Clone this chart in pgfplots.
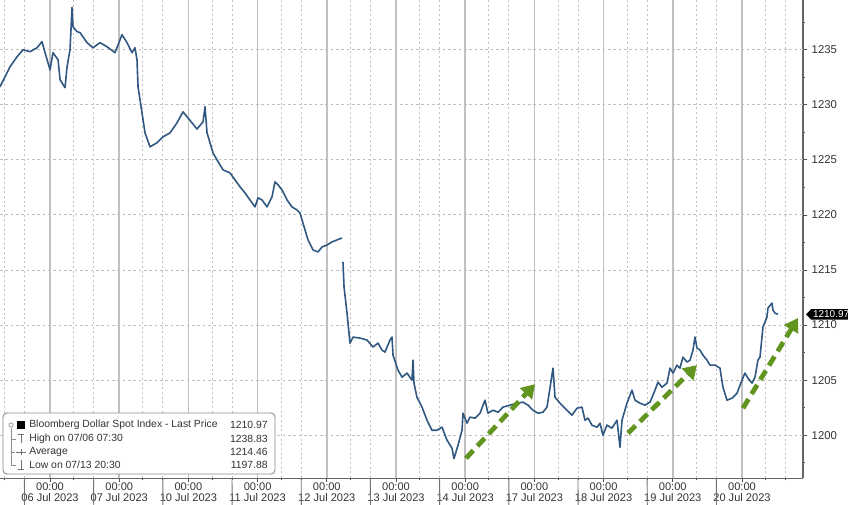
\documentclass[border=0pt]{standalone}
\usepackage{fontspec}
\setmainfont{Liberation Sans}
\usepackage{pgfplots}
\pgfplotsset{compat=1.18}
\usetikzlibrary{arrows.meta,shapes.symbols}

\definecolor{bbline}{RGB}{48,88,130}
\definecolor{bbgreen}{RGB}{98,148,32}
\definecolor{gridgray}{RGB}{192,192,192}

\begin{document}
\begin{tikzpicture}
\begin{axis}[
  scale only axis, width=602.25pt, height=358.5pt,
  xmin=-0.723, xmax=10.882, ymin=1196.1, ymax=1239.5,
  axis x line*=bottom, axis y line*=right,
  axis line style={draw=black!60, line width=0.8pt},
  clip=false,
  xtick={0,...,10},
  xticklabels={{00:00\\06 Jul 2023},{00:00\\07 Jul 2023},{00:00\\10 Jul 2023},
    {00:00\\11 Jul 2023},{00:00\\12 Jul 2023},{00:00\\13 Jul 2023},{00:00\\14 Jul 2023},
    {00:00\\17 Jul 2023},{00:00\\18 Jul 2023},{00:00\\19 Jul 2023},{00:00\\20 Jul 2023}},
  xticklabel style={align=center, font=\fontsize{8.3}{8.4}\selectfont, text=black!80,
    yshift=3.2pt},
  minor xtick={-0.66,-0.37,0.34,0.63,1.34,1.63,2.34,2.63,3.34,3.63,4.34,4.63,
    5.34,5.63,6.34,6.63,7.34,7.63,8.34,8.63,9.34,9.63,10.34,10.63},
  xmajorgrids, xminorgrids, ymajorgrids=false,
  major grid style={draw=gridgray, line width=1.1pt},
  minor grid style={draw=gridgray, dash pattern=on 1.5pt off 2pt, line width=0.6pt},
  ytick={1200,1205,...,1235},
  minor ytick={1197.5,1202.5,...,1237.5},
  yticklabel style={font=\fontsize{8.5}{9}\selectfont, text=black!80},
  /pgf/number format/1000 sep={},
  /pgf/number format/assume math mode=true,
  extra y ticks={1200,1205,...,1235}, extra y tick labels={},
  extra y tick style={grid=major,
    major grid style={draw=gridgray, dash pattern=on 2pt off 2pt, line width=0.7pt}},
  tick align=outside, major tick length=3pt, minor tick length=1.5pt,
  tick style={black!70, line width=0.6pt},
]
% Bloomberg Dollar Spot Index, x = trading day (0 = 06 Jul 00:00)
\addplot[bbline, line width=1.2pt, unbounded coords=jump, line join=round] table {
x y
-0.723 1231.64
-0.650 1232.55
-0.578 1233.45
-0.477 1234.36
-0.390 1235.00
-0.289 1234.82
-0.188 1235.18
-0.116 1235.73
-0.072 1234.73
0.000 1233.18
0.043 1234.73
0.116 1234.09
0.145 1232.27
0.217 1231.55
0.246 1233.45
0.289 1235.00
0.318 1238.83
0.332 1237.09
0.390 1236.64
0.434 1236.55
0.535 1235.64
0.621 1235.18
0.723 1235.64
0.824 1235.27
0.939 1234.73
1.040 1236.36
1.113 1235.64
1.185 1234.73
1.228 1235.18
1.257 1234.09
1.272 1231.64
1.329 1229.27
1.373 1227.45
1.445 1226.18
1.546 1226.55
1.633 1227.09
1.734 1227.45
1.835 1228.36
1.922 1229.36
1.980 1228.91
2.052 1228.36
2.124 1227.80
2.211 1228.45
2.240 1229.82
2.269 1227.45
2.312 1226.55
2.355 1225.64
2.413 1225.00
2.500 1224.09
2.601 1223.82
2.673 1223.18
2.746 1222.55
2.818 1222.00
2.890 1221.36
2.962 1220.73
3.006 1221.55
3.064 1221.36
3.136 1220.73
3.208 1221.64
3.251 1223.00
3.295 1222.73
3.353 1222.27
3.425 1221.36
3.497 1220.73
3.569 1220.45
3.613 1220.18
3.642 1219.55
3.685 1218.64
3.728 1217.73
3.801 1216.82
3.873 1216.64
3.931 1217.09
4.003 1217.27
4.075 1217.55
4.147 1217.73
4.220 1217.91
4.227 nan
4.234 1215.73
4.249 1213.45
4.292 1211.09
4.335 1208.36
4.379 1208.91
4.480 1208.82
4.581 1208.64
4.668 1208.00
4.740 1208.36
4.798 1207.73
4.841 1207.55
4.913 1208.64
4.942 1208.91
4.957 1207.27
5.029 1205.91
5.087 1205.27
5.159 1205.64
5.231 1205.00
5.246 1206.82
5.260 1204.73
5.303 1203.45
5.376 1202.55
5.448 1201.36
5.520 1200.45
5.592 1200.45
5.665 1200.73
5.737 1199.55
5.809 1198.82
5.838 1197.88
5.896 1199.09
5.954 1200.45
5.968 1202.00
6.026 1201.09
6.069 1201.64
6.142 1201.55
6.214 1202.00
6.286 1203.18
6.329 1202.00
6.402 1202.27
6.474 1202.09
6.546 1202.55
6.647 1202.73
6.749 1202.91
6.835 1203.00
6.908 1202.73
6.980 1202.27
7.052 1202.00
7.124 1202.09
7.182 1202.55
7.225 1204.27
7.269 1206.09
7.298 1203.45
7.370 1202.91
7.471 1202.27
7.543 1201.82
7.616 1202.45
7.688 1202.55
7.731 1201.36
7.775 1201.55
7.832 1200.91
7.905 1200.73
7.948 1201.09
7.991 1200.00
8.049 1200.91
8.121 1200.64
8.194 1201.36
8.237 1198.91
8.266 1201.36
8.338 1202.91
8.410 1204.09
8.454 1203.18
8.526 1202.91
8.598 1202.73
8.671 1203.00
8.743 1204.09
8.786 1204.82
8.844 1204.36
8.916 1204.73
8.960 1206.09
9.003 1205.64
9.061 1206.36
9.104 1206.09
9.147 1207.09
9.205 1206.64
9.249 1206.82
9.292 1207.73
9.321 1208.91
9.350 1207.91
9.393 1207.73
9.436 1207.27
9.494 1206.82
9.538 1206.36
9.610 1206.36
9.682 1206.09
9.725 1204.36
9.783 1203.18
9.855 1203.36
9.928 1203.82
10.000 1205.00
10.043 1205.64
10.087 1205.18
10.145 1204.73
10.188 1205.27
10.231 1206.82
10.260 1207.09
10.289 1208.91
10.303 1209.82
10.361 1210.73
10.376 1211.55
10.434 1212.00
10.448 1211.36
10.477 1211.09
10.520 1210.97
};

% trend arrows
\draw[bbgreen, line width=3.6pt, dash pattern=on 8pt off 4.5pt,
  -{Triangle[length=10pt,width=12pt]}] (axis cs:6.012,1197.91) -- (axis cs:7.009,1204.64);
\draw[bbgreen, line width=3.6pt, dash pattern=on 8pt off 4.5pt,
  -{Triangle[length=10pt,width=12pt]}] (axis cs:8.353,1200.18) -- (axis cs:9.350,1206.36);
\draw[bbgreen, line width=3.6pt, dash pattern=on 8pt off 4.5pt,
  -{Triangle[length=10pt,width=12pt]}] (axis cs:10.014,1202.45) -- (axis cs:10.809,1210.64);

% separators in the date band
\pgfplotsinvokeforeach{0,...,10}{
  \draw[black!55, line width=0.7pt] (axis cs:#1-0.37,1196.1) -- ++(0,-20.25pt);
}

% last price tag
\node[signal, signal to=west, fill=black, text=white, inner sep=1.3pt,
  font=\fontsize{7.5}{8}\selectfont, anchor=west] at (axis cs:10.882,1210.97) [xshift=2pt] {1210.97};
\end{axis}

% legend box (pixel coordinates, origin top left of the plot)
\begin{scope}[x=0.75pt, y=-0.75pt, shift={(0pt,358.5pt)}]
  \draw[black!45, fill=white, rounded corners=3pt, line width=0.7pt] (3,413) rectangle (275,474);
  \draw[black!45, line width=0.5pt] (11,428) -- (11,465) -- (16,465)
    (11,439) -- (16,439) (11,452) -- (15,452);
  \draw[black!45, line width=0.5pt] (11,425) circle[radius=1.6pt];
  \fill[black] (17,421) rectangle (25,429);
  \draw[black!55, line width=0.6pt] (21,434) -- (21,443) (18,434) -- (24,434);
  \draw[black!55, line width=0.6pt] (16,452) -- (26,452) (21,449) -- (21,455);
  \draw[black!55, line width=0.6pt] (21,460) -- (21,469) (18,469) -- (24,469);
  \begin{scope}[every node/.style={font=\fontsize{7.8}{8}\selectfont, text=black!80, inner sep=0pt}]
    \node[anchor=west] at (29,425) {Bloomberg Dollar Spot Index - Last Price};
    \node[anchor=west] at (29,439) {High on 07/06 07:30};
    \node[anchor=west] at (29,452) {Average};
    \node[anchor=west] at (29,465) {Low on 07/13 20:30};
    \node[anchor=east] at (268,425) {1210.97};
    \node[anchor=east] at (268,439) {1238.83};
    \node[anchor=east] at (268,452) {1214.46};
    \node[anchor=east] at (268,465) {1197.88};
  \end{scope}
\end{scope}

\pgfresetboundingbox
\path[use as bounding box] (0pt,-20.25pt) rectangle (636pt,358.5pt);
\end{tikzpicture}
\end{document}
